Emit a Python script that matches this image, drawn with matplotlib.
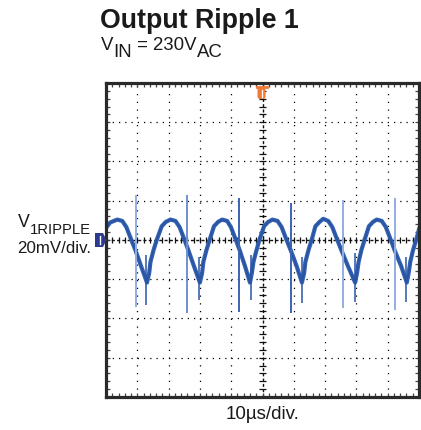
import matplotlib
matplotlib.use("Agg")
import matplotlib.pyplot as plt
from matplotlib.patches import Polygon, FancyBboxPatch
from matplotlib.lines import Line2D

# ---------------- data (time in µs, voltage in mV; 10 µs/div, 20 mV/div) -------------
trace_t = [-50.0, -48.7, -46.4, -44.8, -43.5, -41.9, -40.5, -38.8, -36.9, -36.2, -35.8, -34.8,
           -33.8, -32.2, -30.9,
           -29.4, -27.8, -26.5, -24.9, -23.6, -21.9, -20.0, -19.3, -18.9, -17.9, -16.9, -15.5, -14.2,
           -12.9, -11.3, -10.1, -8.5, -7.2, -5.6, -4.0, -3.4, -2.9, -1.9, -1.0, 0.5, 1.8,
           3.2, 4.8, 6.1, 7.7, 9.1, 10.9, 12.6, 13.3, 13.7, 14.7, 15.7, 16.9, 18.2,
           19.4, 21.0, 22.3, 23.9, 25.3, 27.3, 29.6, 30.2, 30.7, 31.6, 32.6, 34.0, 35.3,
           36.5, 38.1, 39.4, 41.0, 42.3, 44.3, 46.1, 46.7, 47.2, 48.1, 49.1, 50.0]
trace_v = [6.1, 8.9, 10.4, 9.7, 6.6, 0.0, -5.6, -13.3, -21.7, -16.8, -11.2, -5.1,
           0.0, 7.0, 9.2,
           10.4, 9.7, 6.6, 0.0, -5.6, -13.3, -21.7, -16.8, -11.2, -5.1, 0.0, 7.0, 9.2,
           10.4, 9.7, 6.6, 0.0, -5.6, -13.3, -21.7, -16.8, -11.2, -5.1, 0.0, 7.0, 9.2,
           10.4, 9.7, 6.6, 0.0, -5.6, -13.3, -21.7, -16.8, -11.2, -5.1, 0.0, 7.0, 9.2,
           10.8, 9.7, 6.6, 0.0, -5.6, -13.3, -21.7, -16.8, -11.2, -5.1, 0.0, 7.0, 9.2,
           10.4, 9.7, 6.6, 0.0, -5.6, -13.3, -21.7, -16.8, -11.2, -5.1, 0.0, 5.5]

# switching spikes (tall, light) at the falling edge
spike_t = [-40.5, -24.0, -7.5, 9.1, 25.8, 42.3]
spike_top = [22.9, 22.9, 21.4, 18.9, 20.4, 21.4]
spike_bot = [-34.0, -37.2, -36.5, -37.2, -34.7, -35.7]
spike_col = ["#93ade0", "#6f8fd0", "#3c64b2", "#3c64b2", "#93ade0", "#93ade0"]

# small spikes near the troughs
small_t = [-37.2, -20.3, -3.8, 12.6, 29.4, 46.0]
small_top = [-7.6, -8.5, -7.6, -8.5, -6.6, -8.5]
small_bot = [-33.1, -30.6, -30.6, -32.1, -31.4, -31.4]

title = "Output Ripple 1"
x_label = "10µs/div."
y_label_main = "V"
y_label_sub = "1RIPPLE"
y_label_scale = "20mV/div."

# ---------------- figure -------------
W, H = 421, 430
plt.rcParams['font.family'] = ['Liberation Sans', 'DejaVu Sans']
fig = plt.figure(figsize=(W / 100, H / 100), dpi=100)


def fx(px):
    return px / W


def fy(py):
    return 1 - py / H


ax = fig.add_axes([fx(106), fy(397), 313 / W, 314 / H])
ax.set_xlim(-50, 50)
ax.set_ylim(-80, 80)

# grid
for x in range(-40, 50, 10):
    if x == 0:
        continue
    ax.axvline(x, color="black", lw=0.9, dashes=(1, 5.2), zorder=1)
for y in range(-60, 80, 20):
    if y == 0:
        continue
    ax.axhline(y, color="black", lw=0.9, dashes=(1, 4), zorder=1)

# center lines with minor ticks
ax.axhline(0, color="#111111", lw=1.0, dashes=(2.2, 1.6), zorder=1)
ax.axvline(0, color="#111111", lw=1.0, dashes=(2.2, 1.6), zorder=1)
minor_x = [i * 2 for i in range(-24, 25)]
minor_y = [i * 4 for i in range(-19, 20)]
ax.vlines(minor_x, -1.5, 1.5, color="#111111", lw=0.9, zorder=1)
ax.hlines(minor_y, -1.0, 1.0, color="#111111", lw=0.9, zorder=1)

# ticks on frame
ax.set_xticks(range(-50, 51, 10))
ax.set_yticks(range(-80, 81, 20))
ax.set_xticks(minor_x, minor=True)
ax.set_yticks(minor_y, minor=True)
ax.tick_params(which="both", direction="in", length=2.6, width=0.9, color="#444444",
               top=True, right=True, bottom=True, left=True,
               labelbottom=False, labelleft=False)
for s in ax.spines.values():
    s.set_linewidth(2.3)
    s.set_color("#2a2a2a")
    s.set_zorder(6)

# trace
ax.plot(trace_t, trace_v, color="#3563b3", lw=3.0, solid_joinstyle="round", zorder=3)
ax.plot(trace_t, trace_v, color="#2a55a3", lw=1.4, solid_joinstyle="round", zorder=3)
ax.vlines(small_t, small_bot, small_top, color="#2a55a5", lw=1.1, zorder=4)
for t, top, bot, c in zip(spike_t, spike_top, spike_bot, spike_col):
    ax.vlines(t, bot, top, color=c, lw=1.4, zorder=4)

# channel marker (left)
fig.patches.append(Polygon([(fx(95), fy(233)), (fx(103), fy(233)), (fx(106.5), fy(240)),
                            (fx(103), fy(247)), (fx(95), fy(247))], closed=True,
                           facecolor="#2b3a8c", edgecolor="none", transform=fig.transFigure))
fig.lines.append(Line2D([fx(99.5), fx(99.5)], [fy(236), fy(244)], color="white", lw=1.0,
                        transform=fig.transFigure))

# trigger marker (top)
fig.patches.append(FancyBboxPatch((fx(257.5), fy(99)), 8 / W, 12 / H,
                                  boxstyle="round,pad=0,rounding_size=0.006",
                                  facecolor="#f07a35", edgecolor="none",
                                  transform=fig.transFigure, zorder=10))
fig.lines.append(Line2D([fx(256.5), fx(266.5)], [fy(87), fy(87)], color="#f07a35", lw=2.0,
                        transform=fig.transFigure, zorder=10))
fig.lines.append(Line2D([fx(261.5), fx(261.5)], [fy(90), fy(97)], color="white", lw=0.9,
                        transform=fig.transFigure, zorder=11))

# texts
fig.text(fx(100.5), fy(28.5), title, fontsize=19.3, fontweight="bold", color="#1a1a1a",
         ha="left", va="baseline")

fs = 13.4
t1 = fig.text(fx(101), fy(50), "V", fontsize=fs, color="#1a1a1a", ha="left", va="baseline")
t2 = ax.annotate("IN", xy=(1, 0), xycoords=t1, xytext=(0, -4.7), textcoords="offset points",
                 fontsize=fs, color="#1a1a1a", ha="left", va="bottom", annotation_clip=False)
t3 = ax.annotate(" = 230V", xy=(1, 0), xycoords=t2, xytext=(0, 4.7), textcoords="offset points",
                 fontsize=fs, color="#1a1a1a", ha="left", va="bottom", annotation_clip=False)
t4 = ax.annotate("AC", xy=(1, 0), xycoords=t3, xytext=(0, -4.7), textcoords="offset points",
                 fontsize=fs, color="#1a1a1a", ha="left", va="bottom", annotation_clip=False)

ts = fig.text(fx(91), fy(234), y_label_sub, fontsize=10.7, color="#1a1a1a", ha="right",
              va="baseline")
ax.annotate(y_label_main, xy=(0, 0), xycoords=ts, xytext=(0, 4.5), textcoords="offset points",
            fontsize=12.8, color="#1a1a1a", ha="right", va="bottom", annotation_clip=False)
fig.text(fx(91), fy(252.5), y_label_scale, fontsize=12.2, color="#1a1a1a", ha="right",
         va="baseline")

fig.text(fx(263), fy(419), x_label, fontsize=13.5, color="#1a1a1a", ha="center", va="baseline")

fig.savefig("out.png", dpi=100)
